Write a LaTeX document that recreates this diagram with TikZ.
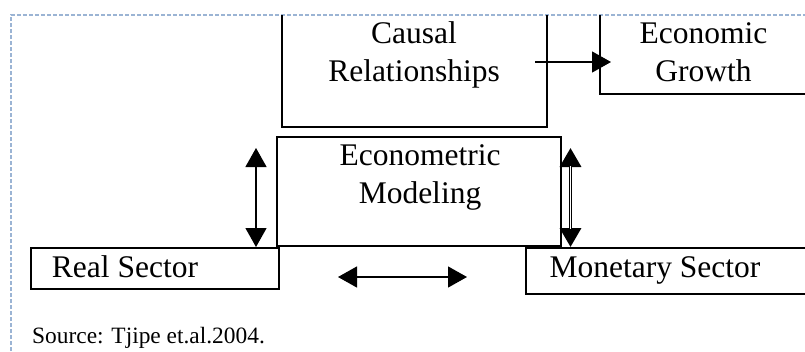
\documentclass[tikz,border=0pt]{standalone}
\usepackage{fontspec}
\setmainfont{Liberation Serif}
\usetikzlibrary{arrows.meta}
\definecolor{dashblue}{RGB}{155,180,212}
\begin{document}
\begin{tikzpicture}[x=1pt,y=-1pt,
  box/.style={draw=black, line width=1.3pt, inner sep=0pt, rectangle},
  lbl/.style={font=\fontsize{31.5}{38}\selectfont, align=center, inner sep=0pt, anchor=base},
  arr/.style={line width=1.3pt, -{Triangle[length=19pt,width=21pt]}},
  darr/.style={line width=1.3pt, {Triangle[length=19pt,width=21pt]}-{Triangle[length=19pt,width=21pt]}},
]
\useasboundingbox (0,0) rectangle (805,351);
\fill[white] (0,0) rectangle (805,351);
\draw[dashblue, line width=1.5pt, dash pattern=on 4pt off 2pt] (11,351) -- (11,15) -- (805,15);
\begin{scope}
\clip (0,15) rectangle (805,351);
\node[box, minimum width=265pt, minimum height=147pt] (causal) at (414.5,53.5) {};
\node[box, minimum width=230pt, minimum height=114pt] (growth) at (715,37) {};
\node[box, minimum width=284pt, minimum height=109pt] (econ) at (419,191.5) {};
\node[box, minimum width=248pt, minimum height=41pt] (real) at (155,268.5) {};
\node[box, minimum width=304pt, minimum height=46pt] (monetary) at (678,271) {};
\end{scope}
\node[lbl] (causaltxt) at (414,81) {Causal\\Relationships};
\node[lbl] (growthtxt) at (703.5,81) {Economic\\Growth};
\node[lbl] (econtxt) at (420,203) {Econometric\\Modeling};
\node[lbl] (realtxt) at (125,277) {Real Sector};
\node[lbl] (montxt) at (655,277) {Monetary Sector};
\node[font=\fontsize{23.4}{28}\selectfont, inner sep=0pt, anchor=base west] (source) at (32,343) {Source: Tjipe et.al.2004.};
\coordinate (cg1) at (535,62);
\coordinate (cg2) at (611,62);
\coordinate (l1) at (256,148);
\coordinate (l2) at (256,247);
\coordinate (r1) at (570.5,148);
\coordinate (r2) at (570.5,247);
\coordinate (h1) at (338,277);
\coordinate (h2) at (467,277);
\draw[arr] (cg1) -- (cg2);
\draw[darr] (l1) -- (l2);
\draw[darr, line width=3.4pt] (r1) -- (r2);
\draw[white, line width=1.2pt] (570.5,166) -- (570.5,229);
\draw[darr] (h1) -- (h2);
\end{tikzpicture}
\end{document}
